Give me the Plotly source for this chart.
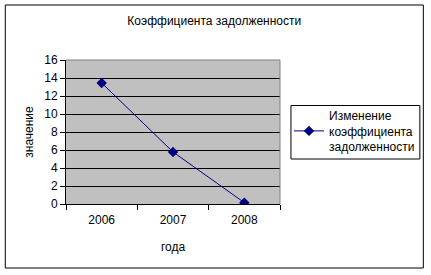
import plotly.graph_objects as go

years = ["2006", "2007", "2008"]
values = [13.45, 5.78, 0.15]
series_name = "Изменение<br>коэффициента<br>задолженности"
title_text = "Коэффициента задолженности"
x_title = "года"
y_title = "значение"

W, H = 431, 275
L, R, T, B = 66, 150, 60, 71
pw = W - L - R
ph = H - T - B

def px_x(x):
    return (x - L) / pw

def px_y(y):
    return (H - B - y) / ph

font = dict(family="Liberation Sans, Arial", size=12, color="black")

fig = go.Figure()
fig.add_trace(go.Scatter(
    x=years, y=values, mode="lines+markers", name=series_name,
    line=dict(color="#000080", width=1),
    marker=dict(symbol="diamond", size=8, color="#000080"),
    showlegend=True,
))

fig.update_layout(
    width=W, height=H,
    margin=dict(l=L, r=R, t=T, b=B),
    paper_bgcolor="white",
    plot_bgcolor="#c0c0c0",
    font=font,
    title=dict(text=title_text, x=px_x(215), xref="paper", xanchor="center",
               y=1 - 21 / H, yanchor="middle", font=dict(size=12)),
    xaxis=dict(
        type="category", range=[-0.5, 2.5], tickson="boundaries",
        ticks="outside", ticklen=5, tickcolor="black", tickwidth=1,
        ticklabelstandoff=5,
        showline=True, linecolor="black", linewidth=1, showgrid=False,
        title=dict(text=x_title, standoff=16, font=dict(size=12)),
        tickfont=dict(size=12), automargin=False,
    ),
    yaxis=dict(
        range=[0, 16], dtick=2, ticks="outside", ticklen=5, tickcolor="black",
        showline=True, linecolor="black", linewidth=1,
        showgrid=True, gridcolor="black", gridwidth=1, zeroline=False,
        title=dict(text=y_title, standoff=8, font=dict(size=12)),
        tickfont=dict(size=12), automargin=False,
    ),
    legend=dict(
        x=px_x(289), y=px_y(101), xanchor="left", yanchor="top",
        borderwidth=0, bgcolor="rgba(0,0,0,0)",
        font=dict(size=12), itemwidth=30, tracegroupgap=0,
    ),
    shapes=[
        dict(type="line", xref="paper", yref="paper", x0=0, x1=1, y0=1, y1=1,
             line=dict(color="#808080", width=1), layer="above"),
        dict(type="line", xref="paper", yref="paper", x0=1, x1=1, y0=0, y1=1,
             line=dict(color="#808080", width=1), layer="above"),
        dict(type="rect", xref="paper", yref="paper",
             x0=px_x(5), x1=px_x(425), y0=px_y(268), y1=px_y(5),
             line=dict(color="black", width=1), fillcolor="rgba(0,0,0,0)",
             layer="below"),
        dict(type="rect", xref="paper", yref="paper",
             x0=px_x(292), x1=px_x(421.5), y0=px_y(159), y1=px_y(105.5),
             line=dict(color="black", width=1), fillcolor="rgba(0,0,0,0)",
             layer="below"),
    ],
)

fig.write_html("out.html")
